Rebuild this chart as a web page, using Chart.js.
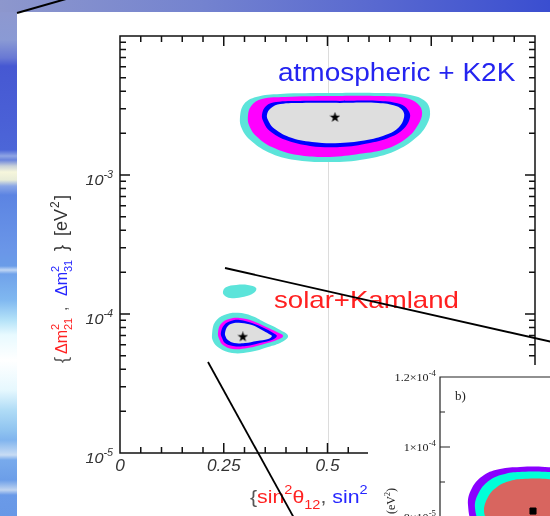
<!DOCTYPE html>
<html>
<head>
<meta charset="utf-8">
<script src="https://cdn.jsdelivr.net/npm/chart.js@4.4.1/dist/chart.umd.min.js"></script>
<style>
  html, body { margin: 0; padding: 0; background: #fff; }
  #slide { position: relative; width: 550px; height: 516px; overflow: hidden; background: #fff; }
  #bandLeft {
    position: absolute; left: 0; top: 0; width: 17px; height: 516px;
    background: linear-gradient(to bottom,
      #8e96cc 0px, #8d98d0 14px, #8a9ad4 40px, #6878d4 58px, #4658d2 66px,
      #4a60d6 120px, #4c66d8 150px, #8fa5e4 156px, #6a84dc 160px, #c8d0d8 166px,
      #f6f6dc 172px, #e8ecd8 180px, #8aa6e6 186px, #5c84e2 195px, #6a96e8 250px,
      #6a9ce8 266px, #c0d6f4 270px, #70a2ea 274px, #80b8f0 300px, #b4e2f8 320px,
      #e8faff 335px, #ffffff 360px, #e6f8fe 390px, #b0dcf6 410px, #90c4f0 430px,
      #80b4ee 440px, #c8dcf4 455px, #78aaec 460px, #6c9ee8 480px, #c0d4f0 490px,
      #6a9ae8 495px, #6898e6 516px);
  }
  #bandTop {
    position: absolute; left: 0; top: 0; width: 550px; height: 12px;
    background: linear-gradient(to right, #8d97cd 0px, #7483cf 200px, #5868d0 380px, #3a4ed0 550px);
  }
  #main { position: absolute; left: 0; top: 0; }
  #insetBox { position: absolute; left: 368px; top: 365px; width: 182px; height: 151px; overflow: hidden; background: #fff; }
  #inset { position: absolute; left: 0; top: 0; }
  #pointers { position: absolute; left: 0; top: 0; pointer-events: none; }
</style>
</head>
<body>
<div id="slide">
  <div id="bandLeft"></div>
  <div id="bandTop"></div>
  <canvas id="main" width="550" height="516"></canvas>
  <div id="insetBox"><canvas id="inset" width="300" height="260"></canvas></div>
  <svg id="pointers" width="550" height="516">
    <line x1="17" y1="13" x2="66" y2="-1" stroke="#000" stroke-width="2"/>
    <line x1="225" y1="268" x2="552" y2="342" stroke="#000" stroke-width="1.8"/>
    <line x1="208" y1="362" x2="294" y2="518" stroke="#000" stroke-width="1.8"/>
  </svg>
</div>
<script>
// ---- axis ticks ----
const xTickValues = [0, 0.25, 0.5, 0.75, 1];
const xTickLabels = ['0', '0.25', '0.5', '0.75', '1'];
const yTickExponents = [-5, -4, -3];

// ---- allowed regions, [sin²θ, Δm² (eV²)] ----
// atmospheric + K2K
const atm99 = [[0.289, 2.57e-3], [0.299, 3.24e-3], [0.328, 3.64e-3], [0.386, 3.83e-3], [0.506, 3.89e-3],
  [0.627, 3.89e-3], [0.699, 3.77e-3], [0.735, 3.41e-3], [0.747, 2.89e-3], [0.740, 2.33e-3],
  [0.713, 1.85e-3], [0.663, 1.49e-3], [0.590, 1.30e-3], [0.506, 1.24e-3], [0.422, 1.28e-3],
  [0.357, 1.46e-3], [0.313, 1.79e-3], [0.294, 2.14e-3]];
const atm95 = [[0.308, 2.57e-3], [0.316, 3.14e-3], [0.342, 3.52e-3], [0.398, 3.64e-3], [0.506, 3.70e-3],
  [0.627, 3.70e-3], [0.689, 3.58e-3], [0.718, 3.24e-3], [0.728, 2.79e-3], [0.718, 2.29e-3],
  [0.694, 1.88e-3], [0.646, 1.56e-3], [0.578, 1.42e-3], [0.506, 1.35e-3], [0.429, 1.39e-3],
  [0.366, 1.59e-3], [0.328, 1.91e-3], [0.313, 2.21e-3]];
const atm90 = [[0.342, 2.70e-3], [0.352, 3.14e-3], [0.376, 3.35e-3], [0.434, 3.41e-3], [0.530, 3.41e-3],
  [0.627, 3.41e-3], [0.675, 3.24e-3], [0.694, 2.94e-3], [0.699, 2.61e-3], [0.687, 2.21e-3],
  [0.658, 1.91e-3], [0.602, 1.70e-3], [0.530, 1.59e-3], [0.458, 1.62e-3], [0.398, 1.79e-3],
  [0.361, 2.07e-3], [0.347, 2.37e-3]];
const atm68 = [[0.354, 2.70e-3], [0.364, 3.03e-3], [0.386, 3.24e-3], [0.439, 3.30e-3], [0.530, 3.30e-3],
  [0.622, 3.30e-3], [0.665, 3.14e-3], [0.682, 2.89e-3], [0.684, 2.57e-3], [0.672, 2.21e-3],
  [0.646, 1.97e-3], [0.598, 1.79e-3], [0.530, 1.70e-3], [0.463, 1.73e-3], [0.407, 1.88e-3],
  [0.373, 2.14e-3], [0.359, 2.41e-3]];
const atmBest = [[0.518, 2.6e-3]];

// solar + KamLAND
const sol99 = [[0.222, 7.30e-5], [0.229, 8.75e-5], [0.251, 9.84e-5], [0.284, 1.02e-4], [0.318, 9.68e-5],
  [0.352, 8.61e-5], [0.386, 7.67e-5], [0.405, 6.95e-5], [0.390, 6.29e-5], [0.357, 5.79e-5],
  [0.313, 5.33e-5], [0.270, 5.24e-5], [0.239, 5.69e-5], [0.224, 6.39e-5]];
const sol99Island = [[0.248, 1.44e-4], [0.255, 1.56e-4], [0.280, 1.62e-4], [0.308, 1.62e-4], [0.328, 1.54e-4],
  [0.323, 1.42e-4], [0.299, 1.33e-4], [0.270, 1.30e-4], [0.253, 1.35e-4]];
const sol95 = [[0.236, 7.30e-5], [0.243, 8.47e-5], [0.263, 9.20e-5], [0.289, 9.36e-5], [0.320, 8.91e-5],
  [0.352, 8.06e-5], [0.378, 7.42e-5], [0.393, 6.95e-5], [0.378, 6.50e-5], [0.347, 6.08e-5],
  [0.308, 5.69e-5], [0.272, 5.60e-5], [0.248, 5.98e-5], [0.239, 6.61e-5]];
const sol90 = [[0.243, 7.30e-5], [0.251, 8.33e-5], [0.267, 8.91e-5], [0.289, 9.06e-5], [0.318, 8.61e-5],
  [0.347, 7.93e-5], [0.369, 7.30e-5], [0.378, 6.95e-5], [0.366, 6.50e-5], [0.337, 6.18e-5],
  [0.304, 5.88e-5], [0.272, 5.88e-5], [0.253, 6.18e-5], [0.246, 6.72e-5]];
const sol68 = [[0.253, 7.30e-5], [0.260, 8.20e-5], [0.275, 8.61e-5], [0.292, 8.61e-5], [0.318, 8.33e-5],
  [0.342, 7.67e-5], [0.359, 7.18e-5], [0.366, 6.95e-5], [0.357, 6.61e-5], [0.330, 6.39e-5],
  [0.301, 6.18e-5], [0.275, 6.18e-5], [0.260, 6.50e-5], [0.255, 6.83e-5]];
const solBest = [[0.296, 6.85e-5]];

// panel b): KamLAND detail
const klOuter = [[0.228, 8.34e-5], [0.232, 8.83e-5], [0.244, 9.20e-5], [0.260, 9.37e-5], [0.280, 9.43e-5],
  [0.305, 9.43e-5], [0.330, 9.34e-5], [0.350, 9.06e-5], [0.360, 8.49e-5], [0.355, 7.77e-5],
  [0.335, 7.20e-5], [0.300, 7.00e-5], [0.260, 7.20e-5], [0.235, 7.69e-5]];
const klMiddle = [[0.235, 8.26e-5], [0.239, 8.71e-5], [0.250, 9.06e-5], [0.265, 9.23e-5], [0.282, 9.29e-5],
  [0.305, 9.29e-5], [0.326, 9.20e-5], [0.343, 8.91e-5], [0.352, 8.43e-5], [0.348, 7.86e-5],
  [0.330, 7.40e-5], [0.300, 7.20e-5], [0.265, 7.34e-5], [0.242, 7.77e-5]];
const klInner = [[0.244, 8.14e-5], [0.248, 8.57e-5], [0.257, 8.86e-5], [0.270, 9.03e-5], [0.285, 9.09e-5],
  [0.305, 9.09e-5], [0.322, 9.00e-5], [0.336, 8.77e-5], [0.344, 8.34e-5], [0.340, 7.91e-5],
  [0.325, 7.57e-5], [0.300, 7.40e-5], [0.270, 7.54e-5], [0.250, 7.86e-5]];
const klBest = [[0.293, 8.17e-5]];
const insetTickValues = [1.2e-4, 1.0e-4, 8.0e-5];
const insetTickLabels = [['1.2×10', '-4'], ['1×10', '-4'], ['8×10', '-5']];
const insetMinorValues = [1.1e-4, 9.0e-5, 7.0e-5];

// ---- helpers ----
const RED = '#ff2222', BLUE = '#2626ff', GREY = '#555555', INK = '#333333';
const toXY = arr => arr.map(([x, y]) => ({ x, y }));

function region(arr, color, order) {
  return {
    data: toXY(arr), showLine: true, closed: true, fill: 'shape',
    backgroundColor: color, borderColor: 'transparent', borderWidth: 0,
    pointRadius: 0, tension: 0.4, order
  };
}

function starSprite(size, color) {
  const c = document.createElement('canvas');
  c.width = c.height = size;
  const g = c.getContext('2d');
  g.fillStyle = color;
  g.beginPath();
  for (let i = 0; i < 10; i++) {
    const r = i % 2 ? size * 0.2 : size * 0.5;
    const a = -Math.PI / 2 + i * Math.PI / 5;
    g.lineTo(size / 2 + r * Math.cos(a), size / 2 + r * Math.sin(a));
  }
  g.closePath();
  g.fill();
  return c;
}

// closes contour outlines into loops so splines run smoothly all the way round
const closeLoops = {
  id: 'closeLoops',
  afterDatasetUpdate(chart, args) {
    const ds = chart.data.datasets[args.index];
    const line = args.meta.dataset;
    if (ds.closed && line) {
      line._loop = true;
      line._fullLoop = true;
      line._pointsUpdated = false;
      delete line._segments;
      delete line._path;
    }
  }
};

function fontStr(size, family, italic) {
  return (italic ? 'italic ' : '') + size + 'px ' + family;
}

// draws a row of text runs; a run is plain text, or a stacked sup/sub pair
function textRuns(ctx, o) {
  const fam = o.family, it = !!o.italic;
  const adv = r => {
    let w = 0;
    if (r.t !== undefined) { ctx.font = fontStr(r.size, fam, it); w = ctx.measureText(r.t).width; }
    if (r.sup) { ctx.font = fontStr(r.small, fam, it); w = Math.max(w, ctx.measureText(r.sup).width); }
    if (r.sub) { ctx.font = fontStr(r.small, fam, it); w = Math.max(w, ctx.measureText(r.sub).width); }
    return w;
  };
  const total = o.runs.reduce((s, r) => s + adv(r), 0);
  let pos = o.align === 'right' ? -total : o.align === 'center' ? -total / 2 : 0;
  ctx.save();
  ctx.translate(o.x, o.y);
  if (o.rot) ctx.rotate(o.rot);
  ctx.scale(o.sx || 1, o.sy || 1);
  ctx.textBaseline = 'alphabetic';
  ctx.textAlign = 'left';
  for (const r of o.runs) {
    const at = r.at !== undefined ? r.at : pos;
    ctx.fillStyle = r.c || INK;
    if (r.t !== undefined) { ctx.font = fontStr(r.size, fam, it); ctx.fillText(r.t, at, 0); }
    if (r.sup) { ctx.font = fontStr(r.small, fam, it); ctx.fillText(r.sup, at, -r.rise); }
    if (r.sub) { ctx.font = fontStr(r.small, fam, it); ctx.fillText(r.sub, at, r.drop); }
    pos = at + adv(r);
  }
  ctx.restore();
}

// ---- main panel frame, ticks and labels ----
const mainFrame = {
  id: 'mainFrame',
  beforeDatasetsDraw(chart) {
    const { ctx, chartArea: a, scales: { x } } = chart;
    const px = Math.round(x.getPixelForValue(0.5)) + 0.5;
    ctx.save();
    ctx.strokeStyle = '#dcdcdc';
    ctx.lineWidth = 1;
    ctx.beginPath(); ctx.moveTo(px, a.top); ctx.lineTo(px, a.bottom); ctx.stroke();
    ctx.restore();
  },
  afterDatasetsDraw(chart) {
    const { ctx, chartArea: a, scales: { x, y } } = chart;
    ctx.save();
    ctx.strokeStyle = '#111';
    ctx.lineWidth = 1.5;
    ctx.strokeRect(a.left, a.top, a.right - a.left, a.bottom - a.top);
    ctx.beginPath();
    for (let i = 1; i < 20; i++) {
      const v = i / 20, len = i % 5 === 0 ? 10 : 6;
      const px = x.getPixelForValue(v);
      ctx.moveTo(px, a.bottom); ctx.lineTo(px, a.bottom - len);
      ctx.moveTo(px, a.top); ctx.lineTo(px, a.top + len);
    }
    for (let e = -5; e <= -3; e++) {
      for (let m = 1; m <= 9; m++) {
        const v = m * Math.pow(10, e), len = m === 1 ? 10 : 6;
        const py = y.getPixelForValue(v);
        if (m === 1 && e === -5) continue;
        ctx.moveTo(a.left, py); ctx.lineTo(a.left + len, py);
        ctx.moveTo(a.right, py); ctx.lineTo(a.right - len, py);
      }
    }
    ctx.stroke();
    ctx.restore();

    // tick labels
    xTickValues.forEach((v, i) => {
      textRuns(ctx, { x: x.getPixelForValue(v), y: a.bottom + 18, family: 'Liberation Sans', italic: true,
        align: 'center', sx: 1.08, runs: [{ t: xTickLabels[i], size: 16, c: INK }] });
    });
    yTickExponents.forEach(e => {
      textRuns(ctx, { x: a.left - 7, y: y.getPixelForValue(Math.pow(10, e)) + 10, family: 'Liberation Sans',
        italic: true, align: 'right', sx: 1.08,
        runs: [{ t: '10', size: 15, c: INK }, { sup: String(e), small: 10, rise: 7, c: INK }] });
    });

    // axis titles
    textRuns(ctx, { x: 250, y: 503, family: 'Liberation Sans', sx: 1.12, runs: [
      { t: '{', size: 19, c: GREY },
      { t: 'sin', size: 19, c: RED }, { sup: '2', small: 13, rise: 9, c: RED },
      { t: 'θ', size: 19, c: RED }, { sub: '12', small: 13, drop: 6, c: RED },
      { t: ', ', size: 19, c: GREY },
      { t: 'sin', size: 19, c: BLUE }, { sup: '2', small: 13, rise: 9, c: BLUE },
      { t: 'θ', size: 19, c: BLUE }, { sub: '23', small: 13, drop: 6, c: BLUE },
      { t: '}', size: 19, c: GREY }] });
    textRuns(ctx, { x: 67, y: 363, rot: -Math.PI / 2, family: 'Liberation Sans', runs: [
      { t: '{', size: 18, c: GREY, at: 0 },
      { t: 'Δm', size: 16, c: RED, at: 9 },
      { sup: '2', sub: '21', small: 11, rise: 8, drop: 5, c: RED, at: 33 },
      { t: ',', size: 16, c: GREY, at: 52 },
      { t: 'Δm', size: 16, c: BLUE, at: 67 },
      { sup: '2', sub: '31', small: 11, rise: 8, drop: 5, c: BLUE, at: 91 },
      { t: '}', size: 18, c: INK, at: 112 },
      { t: '[eV', size: 18, c: INK, at: 127 },
      { sup: '2', small: 12, rise: 8, c: INK, at: 155 },
      { t: ']', size: 18, c: INK, at: 163 }] });

    // region labels
    textRuns(ctx, { x: 278, y: 81, family: 'Liberation Sans', sx: 1.12,
      runs: [{ t: 'atmospheric + K2K', size: 25, c: '#2424f0' }] });
    textRuns(ctx, { x: 274, y: 308, family: 'Liberation Sans', sx: 1.15,
      runs: [{ t: 'solar+Kamland', size: 24, c: '#ff2020' }] });
    ctx.restore();
  }
};

const star = starSprite(11, '#000');

new Chart(document.getElementById('main'), {
  type: 'scatter',
  data: {
    datasets: [
      region(atm99, '#5ce4da', 8), region(atm95, '#ff00ff', 7), region(atm90, '#0000ff', 6), region(atm68, '#dedede', 5),
      region(sol99Island, '#5ce4da', 8),
      region(sol99, '#5ce4da', 8), region(sol95, '#ff00ff', 7), region(sol90, '#0000ff', 6), region(sol68, '#dedede', 5),
      { data: toXY(atmBest), pointStyle: star, pointRadius: 5, order: 0 },
      { data: toXY(solBest), pointStyle: star, pointRadius: 5, order: 0 }
    ]
  },
  options: {
    responsive: false, animation: false, devicePixelRatio: 1, events: [],
    layout: { padding: { left: 120, top: 36, right: 15, bottom: 63 } },
    scales: {
      x: { type: 'linear', min: 0, max: 1, display: false },
      y: { type: 'logarithmic', min: 1e-5, max: 1e-2, display: false }
    },
    plugins: { legend: { display: false }, tooltip: { enabled: false }, filler: { drawTime: 'beforeDatasetDraw' } }
  },
  plugins: [closeLoops, mainFrame]
});

// ---- panel b) ----
const insetFrame = {
  id: 'insetFrame',
  afterDatasetsDraw(chart) {
    const { ctx, chartArea: a, scales: { y } } = chart;
    ctx.save();
    ctx.strokeStyle = '#222';
    ctx.lineWidth = 1.2;
    ctx.beginPath();
    ctx.moveTo(a.left, chart.height); ctx.lineTo(a.left, a.top); ctx.lineTo(chart.width, a.top);
    insetTickValues.forEach(v => { const py = y.getPixelForValue(v); ctx.moveTo(a.left, py); ctx.lineTo(a.left + 10, py); });
    insetMinorValues.forEach(v => { const py = y.getPixelForValue(v); ctx.moveTo(a.left, py); ctx.lineTo(a.left + 5, py); });
    ctx.stroke();
    ctx.restore();
    insetTickValues.forEach((v, i) => {
      textRuns(ctx, { x: a.left - 4, y: y.getPixelForValue(v) + 4, family: 'Liberation Serif', align: 'right', sx: 1.1,
        runs: [{ t: insetTickLabels[i][0], size: 11, c: '#222' }, { sup: insetTickLabels[i][1], small: 8, rise: 5, c: '#222' }] });
    });
    textRuns(ctx, { x: a.left + 15, y: a.top + 23, family: 'Liberation Serif', runs: [{ t: 'b)', size: 13, c: '#222' }] });
    textRuns(ctx, { x: 27, y: 123, rot: -Math.PI / 2, family: 'Liberation Serif', align: 'right', runs: [
      { t: 'Δm', size: 12, c: '#222' }, { sup: '2', sub: '21', small: 8, rise: 5, drop: 3, c: '#222' },
      { t: ' (eV', size: 12, c: '#222' }, { sup: '2', small: 8, rise: 5, c: '#222' }, { t: ')', size: 12, c: '#222' }] });
  }
};

new Chart(document.getElementById('inset'), {
  type: 'scatter',
  data: {
    datasets: [
      region(klOuter, '#8a00ff', 3), region(klMiddle, '#00ffd8', 2), region(klInner, '#d8655f', 1),
      { data: toXY(klBest), pointStyle: 'rect', pointRadius: 4.3, backgroundColor: '#000', borderColor: '#000', order: 0 }
    ]
  },
  options: {
    responsive: false, animation: false, devicePixelRatio: 1, events: [],
    layout: { padding: { left: 72, top: 12, right: 28, bottom: 38 } },
    scales: {
      x: { type: 'linear', min: 0.2, max: 0.4, display: false },
      y: { type: 'linear', min: 6e-5, max: 1.2e-4, display: false }
    },
    plugins: { legend: { display: false }, tooltip: { enabled: false }, filler: { drawTime: 'beforeDatasetDraw' } }
  },
  plugins: [closeLoops, insetFrame]
});
</script>
</body>
</html>
